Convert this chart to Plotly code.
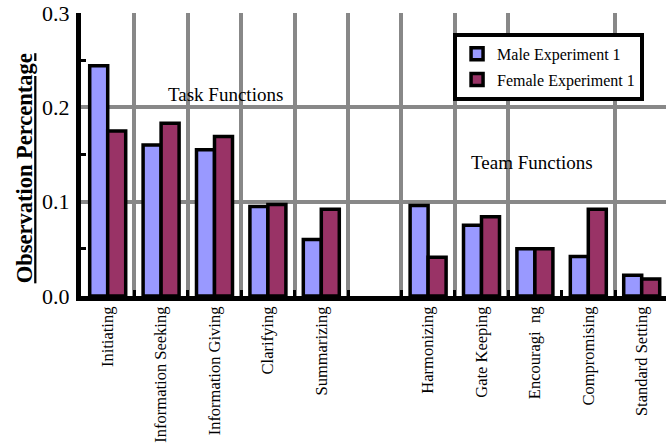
import plotly.graph_objects as go

# Group-role observation shares, by function category
categories = ["Initiating", "Information Seeking", "Information Giving", "Clarifying",
              "Summarizing", " ", "Harmonizing", "Gate Keeping", "Encouragi  ng",
              "Compromising", "Standard Setting"]
male = [0.244, 0.160, 0.155, 0.095, 0.060, None, 0.096, 0.075, 0.050, 0.042, 0.022]
female = [0.175, 0.183, 0.169, 0.097, 0.092, None, 0.041, 0.084, 0.050, 0.092, 0.018]

# category boundaries that carry a vertical gridline
grid_boundaries = [0.5, 1.5, 2.5, 3.5, 4.5, 5.5, 6.5, 7.5, 9.5]

SERIF = "Liberation Serif"
X_RANGE = [-0.5, 10.455]

fig = go.Figure()
fig.add_trace(go.Bar(
    x=categories, y=male, name="Male Experiment 1",
    marker=dict(color="#9999FF", line=dict(color="black", width=3.5)),
    legendgroup="m",
))
fig.add_trace(go.Bar(
    x=categories, y=female, name="Female Experiment 1",
    marker=dict(color="#993366", line=dict(color="black", width=3.5)),
    legendgroup="f",
))
# empty helper trace so the overlay axis (used for the vertical grid) is drawn
fig.add_trace(go.Scatter(x=[None], y=[None], xaxis="x2", showlegend=False,
                         hoverinfo="skip"))

fig.add_annotation(text="Task Functions", x=2.21, y=0.214, xref="x", yref="y",
                   showarrow=False, font=dict(family=SERIF, size=19, color="black"))
fig.add_annotation(text="Team Functions", x=7.94, y=0.141, xref="x", yref="y",
                   showarrow=False, font=dict(family=SERIF, size=19, color="black"))
# y-axis title, underlined and bold
fig.add_annotation(text="Observation Percentage", xref="paper", yref="paper",
                   x=-0.097, y=0.452, xanchor="center", yanchor="middle",
                   textangle=-90, showarrow=False,
                   font=dict(family=SERIF, size=22.5, color="black",
                             weight="bold", lineposition="under"))

fig.update_layout(
    width=666, height=448,
    margin=dict(l=81, r=0, t=13, b=152, autoexpand=False),
    paper_bgcolor="white", plot_bgcolor="white",
    barmode="group", bargap=0.326, bargroupgap=0,
    font=dict(family=SERIF, color="black"),
    showlegend=True,
    legend=dict(
        x=0.636, y=0.93, xanchor="left", yanchor="top",
        bgcolor="white", bordercolor="black", borderwidth=4,
        font=dict(family=SERIF, size=16, color="black"),
        tracegroupgap=2, traceorder="grouped",
    ),
    xaxis=dict(
        type="category", range=X_RANGE, automargin=False,
        showgrid=False, showline=True, linecolor="black", linewidth=5,
        ticks="inside", tickson="boundaries", ticklen=6, tickwidth=3, tickcolor="black",
        tickangle=-90, tickfont=dict(family=SERIF, size=16.5, color="black"),
        ticklabelstandoff=-1,
        zeroline=False,
    ),
    xaxis2=dict(
        overlaying="x", range=X_RANGE, tickvals=grid_boundaries, automargin=False,
        showgrid=True, gridcolor="#888888", gridwidth=4,
        showticklabels=False, ticks="", showline=False, zeroline=False,
    ),
    yaxis=dict(
        range=[0, 0.3], dtick=0.1, tickformat=".1f", automargin=False,
        showgrid=True, gridcolor="#888888", gridwidth=4,
        showline=True, linecolor="black", linewidth=5,
        ticks="", ticklabelstandoff=2,
        tickfont=dict(family=SERIF, size=22, color="black"),
        minor=dict(dtick=0.05, ticks="inside", ticklen=5, tickwidth=3,
                   tickcolor="black", showgrid=False),
        zeroline=False,
    ),
)

fig.write_html("out.html")
